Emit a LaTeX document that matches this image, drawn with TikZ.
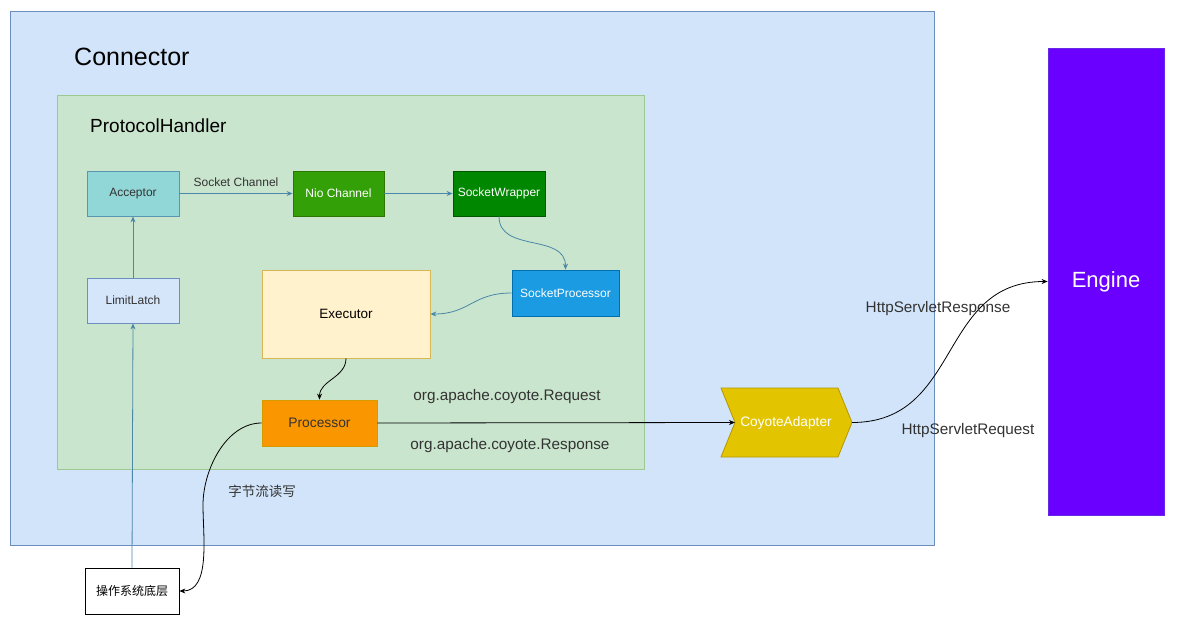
\documentclass[tikz,border=0pt]{standalone}
\usepackage{fontspec}
\setmainfont{Liberation Sans}
\newfontfamily\cjk{Noto Sans CJK SC}
\usetikzlibrary{arrows.meta}
\definecolor{connfill}{HTML}{D2E4FA}
\definecolor{connline}{HTML}{6C8EBF}
\definecolor{phfill}{HTML}{CAE5CD}
\definecolor{phline}{HTML}{9CC98F}
\definecolor{bluearrow}{HTML}{4A87A8}
\definecolor{txt}{HTML}{333333}
\tikzset{
  box/.style={draw, line width=0.8pt, minimum width=92pt, minimum height=45pt, inner sep=0pt, font=\fontsize{12}{14}\selectfont},
  barrow/.style={draw=bluearrow, line width=0.8pt, -{Stealth[length=6pt,width=5pt]}},
  karrow/.style={draw=black, line width=0.8pt, -{Stealth[length=6pt,width=5pt]}},
  lbl/.style={text=txt, inner sep=0pt},
}
\begin{document}
\begin{tikzpicture}[x=1pt,y=-1pt]
\useasboundingbox (0,0) rectangle (1188,644);
\fill[white] (0,0) rectangle (1188,644);
% containers
\draw[fill=connfill, draw=connline, line width=0.8pt] (10,11) rectangle (934,545);
\node[lbl, anchor=west, font=\fontsize{25}{29}\selectfont, text=black] (conntitle) at (74,57) {Connector};
\draw[fill=phfill, draw=phline, line width=0.8pt] (57,95) rectangle (644,469);
\node[lbl, anchor=west, font=\fontsize{19}{23}\selectfont, text=black] (phtitle) at (90,126) {ProtocolHandler};
% nodes
\node[box, fill={rgb,255:red,146;green,215;blue,216}, draw={rgb,255:red,90;green,150;blue,175}, text=txt] (acc) at (133,193.5) {Acceptor};
\node[box, fill={rgb,255:red,213;green,229;blue,250}, draw=connline, text=txt] (latch) at (133,300.5) {LimitLatch};
\node[box, minimum width=91pt, fill={rgb,255:red,52;green,160;blue,8}, draw={rgb,255:red,45;green,118;blue,0}, text=white] (nio) at (338.5,193.5) {Nio Channel};
\node[box, fill={rgb,255:red,0;green,135;blue,0}, draw={rgb,255:red,0;green,87;blue,0}, text=white] (wrap) at (499,193.5) {SocketWrapper};
\node[box, minimum width=107pt, minimum height=46pt, fill={rgb,255:red,27;green,155;blue,225}, draw={rgb,255:red,0;green,110;blue,175}, text=white] (sproc) at (565.5,293) {SocketProcessor};
\node[box, minimum width=168pt, minimum height=88pt, fill={rgb,255:red,255;green,242;blue,204}, draw={rgb,255:red,214;green,182;blue,86}, text=black, font=\fontsize{13.5}{16}\selectfont] (exec) at (346,314) {Executor};
\node[box, minimum width=115pt, minimum height=46pt, fill={rgb,255:red,249;green,150;blue,0}, draw={rgb,255:red,215;green,155;blue,0}, text=txt, font=\fontsize{13.8}{16}\selectfont] (proc) at (319.5,423) {Processor};
\node[box, minimum width=94pt, minimum height=46pt, fill=white, draw=black, text=black, font=\cjk\fontsize{12}{14}\selectfont] (os) at (132,591) {操作系统底层};
\node[box, minimum width=116pt, minimum height=467pt, fill={rgb,255:red,106;green,0;blue,255}, draw={rgb,255:red,100;green,40;blue,230}, text=white] (engine) at (1106,281.5) {};
\node[lbl, text=white, font=\fontsize{22}{26}\selectfont] (enginelbl) at (1106,282) {Engine};
% CoyoteAdapter step shape
\fill[fill={rgb,255:red,226;green,197;blue,0}, draw={rgb,255:red,180;green,150;blue,0}, line width=0.8pt]
  (721,388) -- (838,388) -- (852,422.5) -- (838,457) -- (721,457) -- (735,422.5) -- cycle;
\node[inner sep=0pt, minimum width=117pt, minimum height=69pt, text=white, font=\fontsize{13.7}{16}\selectfont] (coy) at (786,422.5) {CoyoteAdapter};
\coordinate (coyin) at (735,422.5);
\coordinate (coyout) at (852,422.5);
% edges
\draw[barrow] (latch) -- (acc);
\draw[barrow] (os.north) -- (latch.south);
\draw[barrow] (acc) -- node[lbl, above=6pt, font=\fontsize{12}{14}\selectfont] (sclbl) {Socket Channel} (nio);
\draw[barrow] (nio) -- (wrap);
\draw[barrow] (wrap.south) to[out=-90, in=90, looseness=1.1] (sproc.north);
\draw[barrow] (sproc.west) to[out=180, in=0, looseness=1.2] (exec.east);
\draw[karrow] (exec.south) to[out=-90, in=90] (proc.north);
\draw[karrow] (proc.east) -- (coyin);
\coordinate (mid) at (203,505);
\draw[karrow] (proc.west) to[out=180, in=90, looseness=0.9] (mid) to[out=-90, in=0, looseness=0.9] (os.east);
\draw[karrow] (coyout) .. controls +(110,0) and +(-110,0) .. (engine.west);
% labels
\node[lbl, font=\fontsize{15.3}{18}\selectfont] (req) at (507,397) {org.apache.coyote.Request};
\node[lbl, font=\fontsize{15.3}{18}\selectfont] (resp) at (510,446) {org.apache.coyote.Response};
\node[lbl, font=\cjk\fontsize{13.5}{16}\selectfont] (bytes) at (262,491) {字节流读写};
\node[lbl, font=\fontsize{15.3}{18}\selectfont] (hresp) at (938,309) {HttpServletResponse};
\node[lbl, font=\fontsize{15.3}{18}\selectfont] (hreq) at (968,431) {HttpServletRequest};
\end{tikzpicture}
\end{document}
